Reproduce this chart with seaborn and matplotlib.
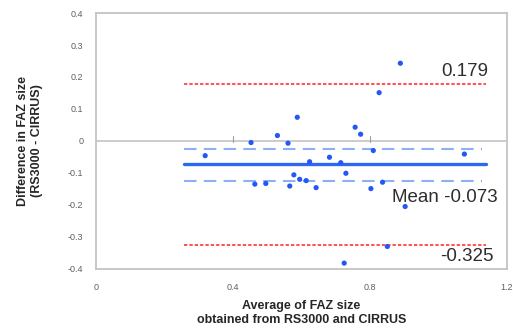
import matplotlib
matplotlib.use("Agg")
import matplotlib.pyplot as plt
import seaborn as sns
import pandas as pd

# Data
avg_faz = [0.319, 0.453, 0.464, 0.496, 0.530, 0.561, 0.566, 0.578, 0.588,
           0.595, 0.614, 0.624, 0.643, 0.682, 0.715, 0.725, 0.730, 0.757,
           0.773, 0.803, 0.810, 0.827, 0.837, 0.851, 0.889, 0.903, 1.076]
diff_faz = [-0.046, -0.005, -0.135, -0.133, 0.017, -0.007, -0.141, -0.106, 0.074,
            -0.120, -0.124, -0.065, -0.146, -0.051, -0.068, -0.382, -0.101, 0.043,
            0.021, -0.149, -0.030, 0.151, -0.129, -0.330, 0.243, -0.205, -0.041]
mean_diff = -0.073
upper_loa = 0.179
lower_loa = -0.325
ci_upper = -0.024
ci_lower = -0.124
line_x = [0.258, 1.139]
x_ticks = [0, 0.4, 0.8, 1.2]
x_ticklabels = ["0", "0.4", "0.8", "1.2"]
y_ticks = [-0.4, -0.3, -0.2, -0.1, 0, 0.1, 0.2, 0.3, 0.4]
y_ticklabels = ["-0.4", "-0.3", "-0.2", "-0.1", "0", "0.1", "0.2", "0.3", "0.4"]

df = pd.DataFrame({"avg": avg_faz, "diff": diff_faz})

sns.set_style("white")
plt.rcParams["font.family"] = ["Liberation Sans", "DejaVu Sans"]

fig = plt.figure(figsize=(5.13, 3.34), dpi=100)
ax = fig.add_axes([0.187, 0.195, 0.801, 0.766])

grey = "#c4c4c4"
ax.axhline(0, color=grey, lw=1.2, zorder=1)
for xt in x_ticks[1:-1]:
    ax.plot([xt, xt], [-0.004, 0.014], color="#a0a0a0", lw=0.8, zorder=1)

# limits of agreement
ax.plot(line_x, [upper_loa, upper_loa], color="#ff2222", lw=1.1,
        linestyle=(0, (2.2, 1.3)), zorder=2)
ax.plot(line_x, [lower_loa, lower_loa], color="#ff2222", lw=1.1,
        linestyle=(0, (2.2, 1.3)), zorder=2)
# confidence interval of mean
ax.plot([line_x[0], 1.128], [ci_upper, ci_upper], color="#8eaef5", lw=1.5,
        linestyle=(0, (6, 3.5)), zorder=2)
ax.plot([line_x[0], 1.128], [ci_lower, ci_lower], color="#8eaef5", lw=1.5,
        linestyle=(0, (6, 3.5)), zorder=2)
# mean
ax.plot(line_x, [mean_diff, mean_diff], color="#2e68f2", lw=2.4, zorder=2)

sns.scatterplot(data=df, x="avg", y="diff", ax=ax, color="#2457f5", s=14,
                edgecolor="none", zorder=3)

txt_kw = dict(fontsize=13.5, color="#2e2e2e", ha="right", va="center")
ax.text(1.145, 0.216, "0.179", **txt_kw)
ax.text(1.174, -0.177, "Mean -0.073", **txt_kw)
ax.text(1.162, -0.3625, "-0.325", **txt_kw)

ax.set_xlim(0, 1.2)
ax.set_ylim(-0.4, 0.4)
ax.set_xticks(x_ticks)
ax.set_xticklabels(x_ticklabels)
ax.set_yticks(y_ticks)
ax.set_yticklabels(y_ticklabels)
ax.tick_params(axis="x", length=0, labelsize=6.5, labelcolor="#606060", pad=10)
ax.tick_params(axis="y", length=6, direction="inout", width=1, color=grey,
               labelsize=6.5, labelcolor="#606060", pad=6)

for sp in ax.spines.values():
    sp.set_visible(True)
    sp.set_color(grey)
    sp.set_linewidth(1.3)

ax.set_xlabel("Average of FAZ size\nobtained from RS3000 and CIRRUS",
              fontsize=9, fontweight="bold", color="#262626", labelpad=6,
              linespacing=1.2)
ax.set_ylabel("Difference in FAZ size\n(RS3000 - CIRRUS)",
              fontsize=9, fontweight="bold", color="#262626", labelpad=18,
              linespacing=1.2)

fig.savefig("out.png", dpi=100)
